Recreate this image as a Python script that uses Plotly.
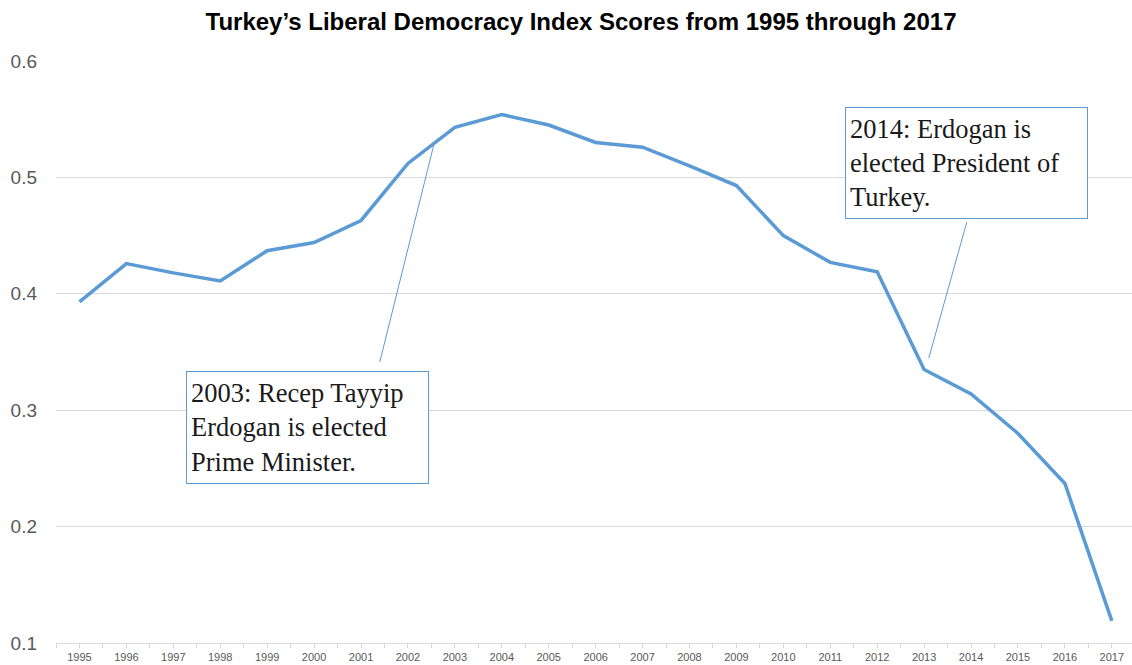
import plotly.graph_objects as go

years = list(range(1995, 2018))
scores = [0.393, 0.426, 0.418, 0.411, 0.437, 0.444, 0.463, 0.512, 0.543, 0.554,
          0.545, 0.530, 0.526, 0.510, 0.493, 0.450, 0.427, 0.419, 0.335, 0.314,
          0.280, 0.237, 0.119]
y_ticks = [0.1, 0.2, 0.3, 0.4, 0.5, 0.6]
title_text = "Turkey’s Liberal Democracy Index Scores from 1995 through 2017"
note_2003 = "2003: Recep Tayyip<br>Erdogan is elected<br>Prime Minister."
note_2014 = "2014: Erdogan is<br>elected President of<br>Turkey."

LINE = "#5B9BD5"
GRID = "#D9D9D9"

fig = go.Figure()
fig.add_trace(go.Scatter(x=years, y=scores, mode="lines",
                         line=dict(color=LINE, width=3.5), hoverinfo="skip"))

# leader lines
fig.add_shape(type="line", x0=2001.40, y0=0.3414, x1=2002.55, y1=0.5278,
              line=dict(color=LINE, width=1))
fig.add_shape(type="line", x0=2013.10, y0=0.3448, x1=2013.91, y1=0.4617,
              line=dict(color=LINE, width=1))

box_font = dict(family="Liberation Serif, Times New Roman, serif", size=26.5, color="#1a1a1a")
fig.add_annotation(x=1997.28, y=0.3337, xref="x", yref="y", xanchor="left", yanchor="top",
                   text=note_2003, showarrow=False, align="left", font=box_font,
                   bordercolor=LINE, borderwidth=1, borderpad=4, bgcolor="white",
                   width=233, height=103, valign="middle")
fig.add_annotation(x=2011.31, y=0.5605, xref="x", yref="y", xanchor="left", yanchor="top",
                   text=note_2014, showarrow=False, align="left", font=box_font,
                   bordercolor=LINE, borderwidth=1, borderpad=4, bgcolor="white",
                   width=233, height=102, valign="middle")

fig.update_layout(
    width=1132, height=665,
    margin=dict(l=56, r=0, t=61, b=22),
    paper_bgcolor="white", plot_bgcolor="white",
    showlegend=False,
    title=dict(text="<b>" + title_text + "</b>", x=581 / 1132, xanchor="center",
               y=1 - 22 / 665, yanchor="middle",
               font=dict(family="Liberation Sans, Arial, sans-serif", size=24, color="black")),
    xaxis=dict(range=[1994.5, 2017.43], tickvals=years, ticktext=[str(y) for y in years],
               showgrid=False, zeroline=False, showline=True, linecolor=GRID, linewidth=1,
               ticks="outside", ticklen=4, tickcolor=GRID, tickwidth=1,
               minor=dict(tick0=1994.5, dtick=1, ticks="outside", ticklen=4,
                          tickcolor=GRID, showgrid=False),
               tickfont=dict(family="Liberation Sans, Arial, sans-serif",
                             size=11, color="#595959"),
               fixedrange=True),
    yaxis=dict(range=[0.1, 0.6], tickvals=y_ticks, ticktext=[f"{v:.1f}" for v in y_ticks],
               showgrid=True, gridcolor=GRID, gridwidth=1, zeroline=False, showline=False,
               ticks="", ticklabelstandoff=18,
               tickfont=dict(family="Liberation Sans, Arial, sans-serif", size=19, color="#595959"),
               fixedrange=True),
)

fig.write_html("out.html", config={"displayModeBar": False},
               post_script="document.body.style.margin='0';document.body.style.overflow='hidden';")
